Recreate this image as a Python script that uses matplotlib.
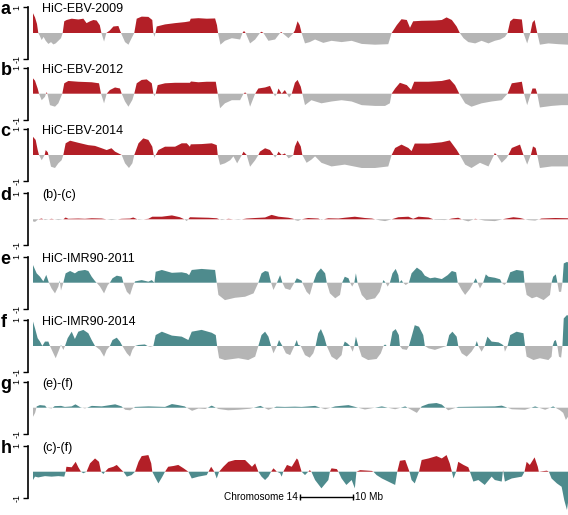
import numpy as np
import matplotlib
matplotlib.use("Agg")
import matplotlib.pyplot as plt
from matplotlib.transforms import blended_transform_factory

plt.rcParams['font.family'] = ['Liberation Sans', 'DejaVu Sans']

RED = '#B31F27'
GRAY = '#B5B5B5'
TEAL = '#4E8B8D'

panel_letters = ['a', 'b', 'c', 'd', 'e', 'f', 'g', 'h']
panel_titles = ['HiC-EBV-2009', 'HiC-EBV-2012', 'HiC-EBV-2014', '(b)-(c)',
                'HiC-IMR90-2011', 'HiC-IMR90-2014', '(e)-(f)', '(c)-(f)']

# positions (Mb from start of plotted region) and eigenvector values
pos_a = [0.0, 0.38, 0.75, 1.0, 1.26, 1.64, 2.0, 2.4, 2.9, 3.4, 3.84, 4.28, 4.78, 5.28, 5.6, 5.9, 6.35, 7.3, 8.55, 9.5,
         10.1, 10.75, 11.4, 12.0, 12.6, 12.9, 13.4, 13.84, 14.5, 15.16, 16.1, 16.6, 17.36, 18.0, 18.6, 19.1, 19.56, 20.5,
         21.76, 22.5, 22.7, 22.9, 23.1, 23.33, 24.9, 26.8, 28.7, 29.56, 29.75, 31.2, 32.77, 34.34, 34.7, 34.9, 35.35,
         36.2, 37.5, 39.06, 39.5, 39.8, 40.1, 40.94, 41.9, 42.8, 43.1, 43.46, 44.4, 45.66, 46.6, 46.8, 47.04, 48.18,
         49.1, 49.4, 49.9, 50.3, 50.66, 51.3, 52.2, 53.2, 54.75, 56.3, 58.2, 60.1, 62.0, 64.5, 67.0, 67.64, 68.6, 69.5,
         70.5, 71.1, 71.7, 73.3, 75.8, 77.1, 78.0, 79.0, 79.9, 80.5, 81.2, 82.1, 83.4, 84.6, 85.9, 87.1, 88.1, 89.0,
         89.5, 90.0, 90.6, 92.2, 92.5, 93.2, 93.8, 94.2, 94.6, 95.1, 95.6, 97.2, 99.1, 100.9]
val_a = [0.76, 0.6, 0.35, 0, -0.1, -0.27, -0.15, -0.3, -0.42, -0.35, -0.44, -0.4, -0.3, -0.2, 0, 0.45, 0.5, 0.55, 0.52,
         0.55, 0.38, 0.45, 0.5, 0.48, 0.3, 0, -0.33, 0, 0.1, 0.25, 0.27, 0, -0.35, -0.45, -0.2, 0, 0.55, 0.63, 0.62, 0.5,
         0, -0.15, 0, 0.25, 0.33, 0.38, 0.42, 0.45, 0.55, 0.57, 0.55, 0.56, 0.3, 0, -0.45, -0.3, -0.2, -0.25, 0, 0.08,
         0, -0.4, -0.25, 0, 0.05, 0, -0.3, -0.25, 0, 0.04, 0, -0.2, 0, 0.1, 0.45, 0.3, 0, -0.4, -0.35, -0.25, -0.38,
         -0.3, -0.35, -0.3, -0.42, -0.45, -0.43, 0, 0.3, 0.53, 0.5, 0.2, 0.45, 0.47, 0.48, 0.5, 0.6, 0.5, 0.25, 0,
         -0.2, -0.35, -0.4, -0.3, -0.4, -0.3, -0.25, -0.15, 0, 0.45, 0.55, 0.52, 0, -0.4, 0, 0.4, 0.5, 0, -0.45, -0.4,
         -0.43, -0.45]

pos_b = [0.0, 0.38, 0.88, 1.13, 1.64, 2.26, 2.45, 2.58, 2.72, 3.2, 4.15, 4.78, 5.53, 5.9, 6.67, 8.55, 11.07, 12.45,
         12.83, 13.4, 13.9, 14.5, 15.47, 16.4, 16.73, 17.36, 18.0, 18.74, 19.1, 19.56, 20.5, 21.45, 22.4, 22.7, 22.9,
         23.14, 23.52, 24.9, 26.8, 29.6, 29.8, 31.2, 32.77, 34.47, 34.84, 35.28, 36.2, 37.5, 39.06, 39.7, 40.0, 40.3,
         40.94, 41.9, 42.5, 43.77, 44.7, 45.35, 45.66, 46.0, 46.3, 46.9, 47.5, 47.9, 48.3, 48.8, 49.4, 49.9, 50.5,
         50.8, 51.3, 52.5, 54.4, 56.3, 58.2, 60.1, 62.0, 64.5, 66.4, 67.3, 67.64, 68.3, 69.2, 70.5, 71.3, 71.9, 74.6,
         77.1, 78.6, 79.6, 80.4, 81.5, 82.7, 84.6, 86.5, 88.4, 89.5, 90.3, 92.2, 92.6, 93.2, 93.9, 94.2, 94.8, 95.1,
         95.6, 97.8, 99.7, 100.9]
val_b = [0.59, 0.5, 0.2, 0, -0.25, -0.12, 0, 0.06, 0, -0.44, -0.5, -0.37, 0, 0.4, 0.49, 0.46, 0.44, 0.4, 0, -0.37, 0,
         0.14, 0.24, 0.2, 0, -0.3, -0.5, -0.24, 0, 0.4, 0.53, 0.55, 0.4, 0, -0.1, 0, 0.33, 0.4, 0.42, 0.42, 0.47, 0.44,
         0.46, 0.46, 0, -0.56, -0.37, -0.25, -0.25, 0, 0.05, 0, -0.5, 0, 0.2, 0.24, 0.3, 0, -0.1, 0, 0.2, 0, 0.14, 0,
         -0.15, 0, 0.42, 0.53, 0.27, 0, -0.44, -0.25, -0.37, -0.3, -0.25, -0.3, -0.44, -0.47, -0.47, -0.37, 0, 0.2,
         0.42, 0.33, 0.15, 0.46, 0.46, 0.49, 0.56, 0.33, 0, -0.37, -0.5, -0.37, -0.3, -0.25, 0, 0.4, 0.46, 0, -0.44,
         0, 0.2, 0.2, 0, -0.53, -0.47, -0.44, -0.44]

pos_c = [0.0, 0.5, 0.88, 1.13, 1.64, 2.2, 2.4, 2.8, 2.9, 3.4, 4.15, 4.78, 5.4, 5.72, 6.16, 7.0, 8.55, 10.4, 11.7,
         12.96, 13.9, 14.8, 15.47, 16.73, 17.36, 18.1, 18.74, 19.1, 19.9, 20.8, 21.76, 22.5, 22.76, 22.9, 23.14, 23.65,
         24.9, 26.8, 28.05, 29.0, 29.6, 29.75, 31.8, 33.7, 34.65, 34.84, 35.28, 36.2, 37.2, 37.8, 38.5, 39.4, 39.7,
         40.3, 40.94, 41.9, 42.5, 42.8, 43.77, 44.7, 45.35, 45.66, 46.0, 46.3, 46.9, 47.5, 48.2, 48.8, 49.1, 49.4,
         49.9, 50.5, 50.8, 51.6, 52.5, 53.2, 54.4, 56.3, 58.8, 62.0, 64.5, 67.0, 67.64, 68.3, 69.5, 70.8, 71.4, 72.0,
         74.6, 77.1, 78.6, 79.9, 80.5, 81.5, 82.7, 84.3, 85.9, 86.95, 87.1, 87.45, 88.4, 89.3, 89.65, 90.3, 91.85,
         92.5, 93.2, 93.9, 94.3, 94.8, 95.1, 95.6, 97.8, 99.7, 100.9]
val_c = [0.7, 0.58, 0.2, 0, -0.2, 0, 0.19, 0.1, 0, -0.45, -0.5, -0.32, -0.2, 0, 0.45, 0.55, 0.47, 0.38, 0.35, 0.26,
         0.19, 0.26, 0.13, 0, -0.32, -0.5, -0.32, 0, 0.45, 0.64, 0.58, 0.32, 0, -0.12, 0, 0.19, 0.32, 0.32, 0.45, 0.45,
         0.32, 0.41, 0.42, 0.45, 0.38, 0, -0.38, -0.32, -0.2, -0.05, -0.32, 0, 0.13, 0, -0.45, -0.2, 0, 0.13, 0.26,
         0.19, 0, -0.1, 0, 0.13, 0, 0.06, -0.13, -0.06, 0, 0.33, 0.56, 0.33, 0, -0.3, -0.18, -0.05, -0.3, -0.44, -0.37,
         -0.5, -0.5, -0.44, 0, 0.27, 0.4, 0.27, 0.15, 0.44, 0.44, 0.49, 0.56, 0.2, 0, -0.37, -0.5, -0.3, -0.44, 0,
         0.08, 0, -0.3, -0.12, 0, 0.27, 0.4, 0, -0.37, 0, 0.33, 0.27, 0, -0.5, -0.44, -0.44, -0.44]

pos_d = [0.0, 0.38, 1.0, 1.64, 2.26, 3.5, 4.78, 5.72, 6.16, 6.67, 8.55, 9.8, 11.07, 12.96, 14.8, 16.73, 18.3, 18.9,
         19.9, 21.76, 22.5, 24.3, 26.2, 27.7, 28.55, 29.0, 29.6, 31.2, 33.1, 34.65, 35.6, 36.85, 38.75, 40.3, 41.9,
         43.77, 45.0, 46.3, 48.2, 49.1, 49.4, 50.0, 50.66, 51.9, 53.8, 54.4, 55.7, 57.6, 58.8, 60.7, 62.6, 63.9, 65.4,
         66.4, 67.64, 68.9, 70.8, 71.7, 72.7, 74.6, 75.8, 77.7, 79.0, 80.2, 81.2, 82.1, 83.4, 85.2, 87.1, 89.0, 90.6,
         91.85, 93.4, 94.7, 95.9, 98.5, 100.9]
val_d = [-0.08, -0.1, 0, 0.03, -0.03, 0.02, -0.03, 0, 0.07, 0.02, 0.03, 0.02, 0.04, 0.03, -0.03, 0.02, 0.03, 0.07,
         -0.02, 0.02, 0.1, 0.1, 0.15, 0.08, 0, -0.07, 0.08, 0.07, 0.06, 0.04, -0.03, 0.02, -0.02, 0.03, 0.05, 0.07,
         0.17, 0.1, 0.06, 0.02, -0.03, -0.06, 0, 0.05, 0.03, -0.02, 0.04, 0.03, 0.06, 0.1, 0.05, 0.03, -0.04, -0.07,
         0, 0.08, 0.1, 0.02, 0.1, 0.07, -0.02, -0.03, 0.03, 0.06, -0.03, -0.08, 0.02, -0.05, -0.07, 0.02, 0.08, 0.05,
         -0.03, -0.05, 0.03, 0.05, 0.04]

pos_e = [0.0, 0.69, 1.32, 1.95, 2.5, 3.0, 3.5, 4.15, 4.78, 5.03, 5.28, 5.72, 6.16, 7.0, 7.9, 8.55, 9.8, 10.44, 11.07,
         11.7, 12.0, 12.64, 13.4, 14.1, 14.5, 15.0, 15.8, 16.73, 17.05, 17.7, 18.3, 18.9, 19.25, 20.5, 21.76, 22.4,
         22.9, 23.14, 24.3, 26.2, 28.05, 29.0, 29.44, 29.94, 31.8, 34.34, 34.65, 34.97, 36.2, 38.1, 40.0, 41.6, 42.5,
         43.1, 43.77, 44.4, 44.9, 45.35, 46.0, 46.6, 47.04, 47.55, 48.5, 49.3, 49.75, 50.66, 50.8, 51.6, 52.2, 52.86,
         53.5, 54.3, 55.1, 55.4, 56.0, 57.0, 57.9, 58.3, 58.8, 59.5, 59.8, 60.2, 60.6, 60.9, 61.2, 62.0, 62.9, 64.5,
         65.4, 65.9, 66.1, 66.5, 66.9, 67.3, 67.8, 68.4, 68.9, 69.1, 69.5, 69.8, 70.3, 70.9, 71.4, 72.4, 73.3, 73.9,
         74.9, 75.8, 77.1, 78.2, 79.0, 79.8, 80.1, 80.85, 81.5, 82.4, 83.05, 83.5, 83.85, 84.3, 84.9, 85.4, 85.9,
         87.1, 88.1, 88.4, 88.9, 89.3, 90.0, 91.2, 92.5, 92.7, 93.1, 94.1, 95.0, 96.3, 97.5, 97.8, 98.1, 98.6, 98.9,
         99.2, 99.6, 99.85, 100.1, 100.7, 100.9]
val_e = [0.68, 0.36, 0.23, 0.05, 0.3, 0, -0.22, -0.41, -0.15, 0.08, -0.3, 0, 0.36, 0.45, 0.36, 0.45, 0.49, 0.45,
         0.23, 0.06, 0, -0.15, -0.41, -0.09, 0, 0.17, 0.27, 0.23, 0, -0.35, -0.47, -0.09, 0.05, 0.1, 0.04, 0.1, 0,
         0.42, 0.49, 0.38, 0.4, 0.36, 0.29, 0.49, 0.53, 0.49, 0, -0.47, -0.67, -0.58, -0.54, -0.41, 0, 0.36, 0.45,
         0.42, 0, -0.28, 0, 0.29, 0, -0.22, -0.28, 0, 0.17, 0.08, 0, -0.35, -0.47, 0, 0.36, 0.55, 0.36, 0, -0.41,
         -0.6, -0.47, 0, 0.23, 0.17, 0, -0.15, 0, 0.36, 0, -0.47, -0.67, -0.6, -0.35, 0, 0.1, 0, -0.15, 0, 0.36,
         0.53, 0.29, 0, 0.1, 0, -0.09, 0, 0.36, 0.58, 0.45, 0.27, 0.17, 0.2, 0.14, 0.29, 0.45, 0.4, 0, -0.28, -0.47,
         -0.24, 0, 0.17, 0, -0.22, 0, 0.32, 0.23, 0.19, 0.13, 0, -0.09, 0, 0.4, 0.49, 0.45, 0, -0.47, -0.6, -0.54,
         -0.67, -0.47, 0, 0.23, 0.32, 0, -0.35, -0.35, 0, 0.74, 0.8, 0.78]

pos_f = [0.0, 0.38, 0.88, 1.32, 1.76, 2.26, 2.9, 3.2, 3.84, 4.28, 4.78, 5.28, 5.72, 6.04, 6.54, 7.3, 7.9, 8.55, 9.5,
         10.44, 11.07, 11.7, 12.64, 13.4, 13.9, 14.5, 15.0, 15.8, 16.4, 16.86, 17.7, 18.3, 18.74, 19.25, 19.9, 21.1,
         21.6, 22.1, 22.7, 23.14, 24.3, 26.2, 28.05, 29.3, 29.94, 31.8, 33.7, 34.47, 34.72, 35.1, 36.2, 38.75, 40.6,
         41.9, 42.5, 43.1, 43.77, 44.4, 44.9, 45.35, 46.0, 46.4, 47.04, 47.7, 48.5, 49.3, 49.75, 50.0, 50.5, 51.3,
         52.2, 52.86, 53.3, 53.8, 54.3, 54.9, 55.4, 56.3, 57.3, 58.2, 58.5, 58.8, 59.3, 59.8, 60.3, 60.6, 60.9, 61.35,
         62.0, 63.2, 64.8, 65.6, 66.1, 66.4, 66.7, 67.3, 67.8, 68.4, 69.0, 69.2, 69.65, 70.5, 70.9, 71.4, 72.0, 72.8,
         73.6, 73.9, 74.6, 75.8, 77.1, 78.0, 78.5, 79.1, 79.9, 80.2, 80.85, 81.8, 82.7, 83.4, 83.7, 84.0, 84.6, 85.2,
         85.7, 86.5, 87.8, 88.5, 88.8, 89.0, 89.5, 90.0, 91.2, 92.5, 92.8, 93.1, 94.4, 95.6, 97.2, 97.8, 98.0, 98.3,
         98.6, 98.9, 99.2, 99.6, 99.85, 100.1, 100.7, 100.9]
val_f = [0.94, 0.68, 0.3, 0.17, 0, 0.17, 0.17, 0, -0.28, -0.47, -0.22, 0.04, -0.15, 0, 0.3, 0.55, 0.27, 0.55, 0.62,
         0.49, 0.23, 0, -0.15, -0.41, -0.15, 0, 0.23, 0.32, 0.17, 0, -0.28, -0.41, -0.15, 0, 0.04, 0.06, 0, -0.03, 0,
         0.42, 0.55, 0.4, 0.36, 0.23, 0.55, 0.62, 0.51, 0.42, 0, -0.47, -0.54, -0.47, -0.54, -0.41, 0, 0.42, 0.55,
         0.36, 0, -0.28, 0, 0.23, 0, -0.28, -0.35, 0, 0.23, 0.05, 0, -0.35, -0.45, -0.28, 0, 0.49, 0.65, 0.36, 0,
         -0.41, -0.54, -0.35, 0, 0.17, 0.1, 0, -0.22, 0, 0.36, 0, -0.41, -0.54, -0.5, -0.28, 0, 0.06, 0, 0, 0.55,
         0.65, 0.42, 0, -0.12, -0.15, 0, 0.36, 0.8, 0.74, 0.42, 0, -0.09, -0.15, -0.06, 0, 0.42, 0.55, 0.36, 0,
         -0.28, -0.41, -0.22, 0, 0.19, 0, -0.22, 0, 0.36, 0.17, 0.14, 0.06, 0, -0.22, 0, 0.42, 0.55, 0.49, 0, -0.41,
         -0.54, -0.47, -0.54, -0.41, 0, 0.19, 0.23, 0, -0.41, -0.45, 0, 1.06, 1.19, 1.17]

pos_g = [0.0, 0.4, 0.7, 1.3, 2.26, 2.6, 3.5, 4.1, 5.3, 6.0, 7.3, 8.0, 8.9, 9.8, 11.1, 12.96, 13.9, 15.5, 16.7, 17.4,
         18.3, 19.25, 21.8, 24.9, 26.2, 27.4, 28.6, 30.0, 31.2, 32.5, 33.7, 35.0, 36.8, 38.75, 40.9, 42.9, 44.4, 45.9,
         47.5, 49.4, 50.66, 53.2, 55.1, 57.0, 59.5, 62.6, 65.8, 68.3, 70.2, 72.4, 73.3, 74.6, 76.1, 77.1, 78.3, 80.2,
         83.4, 87.1, 88.4, 90.3, 92.8, 94.7, 96.6, 98.1, 99.4, 100.0, 100.5, 100.9]
val_g = [-0.35, -0.2, 0.05, 0.1, 0.08, 0, -0.03, 0.06, 0.07, 0.03, 0.05, 0.13, 0.02, -0.03, 0.07, 0.05, 0.08, 0.13,
         0.05, -0.08, -0.1, 0.03, 0.05, 0.03, 0.14, 0.1, 0.05, -0.12, -0.03, -0.05, 0.08, -0.05, -0.1, -0.08, -0.04,
         0.07, -0.08, 0.04, 0.03, 0.04, 0.03, 0.07, -0.06, 0.05, 0.1, -0.07, 0.05, -0.06, 0.05, -0.2, 0.05, 0.15, 0.18,
         0.12, -0.1, 0.03, 0.04, 0.05, 0.08, -0.06, -0.08, 0.05, -0.08, 0.05, -0.1, -0.2, -0.47, -0.35]

pos_h = [0.0, 0.38, 1.0, 2.26, 3.5, 4.78, 5.9, 6.16, 6.3, 7.3, 8.05, 8.55, 9.05, 9.5, 10.1, 10.75, 11.7, 12.45, 12.83,
         13.27, 13.6, 14.2, 15.16, 15.8, 16.73, 17.05, 17.7, 18.6, 19.25, 19.9, 20.5, 21.76, 22.3, 22.5, 23.14, 23.65,
         24.4, 24.9, 25.5, 26.5, 27.4, 28.4, 29.3, 29.94, 31.2, 32.77, 33.1, 33.6, 34.2, 34.65, 35.1, 35.9, 36.85,
         38.1, 40.0, 41.3, 41.9, 42.5, 43.1, 43.77, 44.4, 44.9, 45.35, 46.0, 46.6, 46.9, 47.2, 47.9, 48.8, 49.75,
         50.0, 50.66, 51.3, 52.2, 52.5, 53.2, 54.4, 55.7, 56.0, 56.3, 57.3, 57.6, 58.2, 59.1, 60.1, 60.7, 61.0, 61.7,
         63.9, 64.2, 64.8, 65.8, 67.0, 68.3, 68.7, 69.2, 70.2, 71.0, 71.4, 72.0, 72.8, 73.3, 74.6, 76.1, 77.1, 78.0,
         78.6, 79.0, 79.3, 79.8, 80.2, 81.2, 82.1, 82.4, 83.05, 84.0, 85.2, 86.5, 87.1, 88.4, 88.65, 89.0, 90.3,
         92.2, 92.7, 93.1, 93.7, 94.6, 95.2, 95.4, 96.9, 97.3, 97.8, 98.8, 99.7, 100.2, 100.7, 100.9]
val_h = [-0.32, -0.19, -0.22, -0.17, -0.19, -0.17, -0.19, 0, 0.19, 0.17, 0.38, 0.17, 0, -0.06, 0, 0.32, 0.51, 0.38,
         0, -0.09, 0, 0.13, 0.19, 0.26, 0.06, 0, -0.19, -0.13, 0, 0.38, 0.6, 0.64, 0.32, 0, -0.26, -0.45, -0.19, 0,
         0.19, 0.22, 0.26, 0.13, 0, -0.26, -0.19, -0.13, 0, 0.19, 0, -0.26, 0, 0.19, 0.38, 0.45, 0.45, 0.19, 0.32, 0,
         -0.19, -0.32, -0.19, 0, 0.13, 0, -0.06, -0.19, 0, 0.26, 0.19, 0.51, 0.45, 0, -0.13, 0.06, 0, -0.32, -0.64,
         -0.32, 0, 0.13, 0.1, 0, -0.26, -0.51, -0.32, -0.64, 0, 0.06, 0.03, 0, -0.13, -0.26, -0.38, -0.51, 0, 0.42,
         0.45, 0, -0.32, -0.45, 0, 0.45, 0.51, 0.6, 0.51, 0.64, 0.32, 0, -0.26, 0, 0.38, 0.26, 0.17, 0, -0.38, -0.32,
         -0.51, -0.19, -0.32, -0.38, 0.06, -0.38, -0.26, -0.19, 0, 0.38, 0.26, 0.55, 0.19, 0, 0.04, 0, -0.26, -0.45,
         -0.58, -1.1, -1.47, -1.2]

series = [(pos_a, val_a, RED, GRAY), (pos_b, val_b, RED, GRAY), (pos_c, val_c, RED, GRAY),
          (pos_d, val_d, RED, GRAY), (pos_e, val_e, TEAL, GRAY), (pos_f, val_f, TEAL, GRAY),
          (pos_g, val_g, TEAL, GRAY), (pos_h, val_h, RED, TEAL)]

# layout (pixels)
W, H = 568, 515
zero_rows = [33, 93.7, 155, 219.3, 282.7, 346, 407.7, 471.7]
px_per_unit = 26.0
half = 31.0
x0_px, x1_px = 33, 568
XMAX = 100.9

fig = plt.figure(figsize=(W / 100, H / 100), dpi=100)

axes = []
for i, (p, v, cpos, cneg) in enumerate(series):
    y0 = zero_rows[i]
    ax = fig.add_axes([x0_px / W, 1 - (y0 + half) / H, (x1_px - x0_px) / W, 2 * half / H])
    p = np.array(p, float)
    v = np.array(v, float)
    ax.fill_between(p, v, 0, where=v >= 0, interpolate=True, color=cpos, lw=0, clip_on=False)
    ax.fill_between(p, v, 0, where=v <= 0, interpolate=True, color=cneg, lw=0, clip_on=False)
    ax.set_xlim(0, XMAX)
    ax.set_ylim(-half / px_per_unit, half / px_per_unit)
    for s in ['top', 'right', 'bottom']:
        ax.spines[s].set_visible(False)
    ax.spines['left'].set_position(('outward', 3.6))
    ax.spines['left'].set_bounds(-1, 1)
    ax.spines['left'].set_linewidth(1.2)
    ax.set_xticks([])
    ax.set_yticks([-1, 1])
    ax.set_yticklabels(['-1', '1'], rotation=90, va='center', fontsize=6.5)
    ax.tick_params(axis='y', length=3.5, width=1.0, pad=1.0)
    ax.patch.set_visible(False)
    tr = blended_transform_factory(fig.transFigure, ax.transData)
    fig.text(0.5 / W, 0.9, panel_letters[i], transform=tr, fontsize=13, fontweight='bold',
             ha='left', va='center')
    ax.text(0.017, 0.93, panel_titles[i], transform=blended_transform_factory(ax.transAxes, ax.transData),
            fontsize=9, ha='left', va='center')
    axes.append(ax)

# scale bar in panel h
axh = axes[-1]
bar_start, bar_len, bar_y = 50.4, 10, -0.97
axh.plot([bar_start, bar_start + bar_len], [bar_y, bar_y], color='black', lw=1.0, clip_on=False)
axh.plot([bar_start, bar_start + bar_len], [bar_y, bar_y], ls='none', marker='|', ms=5, mew=1.0,
         color='black', clip_on=False)
axh.text(bar_start - 0.5, bar_y, 'Chromosome 14', fontsize=7.2, ha='right', va='center')
axh.text(bar_start + bar_len + 0.4, bar_y, '10 Mb', fontsize=7.2, ha='left', va='center')

fig.savefig('out.png', dpi=100)
